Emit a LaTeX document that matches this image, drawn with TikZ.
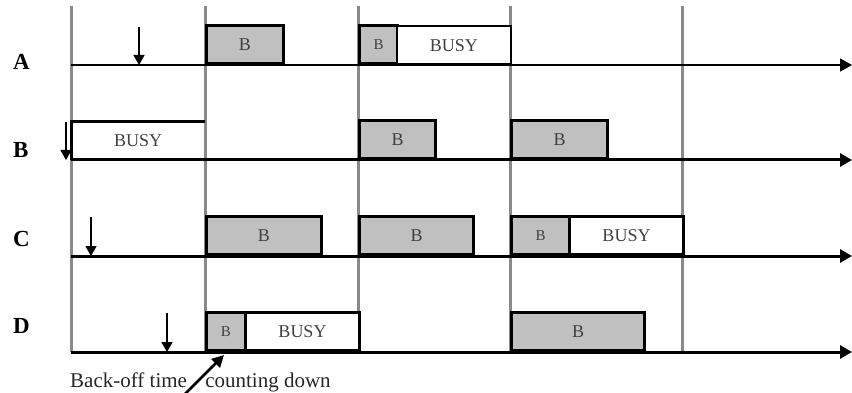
\documentclass[tikz,border=0pt]{standalone}
\usepackage{fontspec}
\setmainfont{Liberation Serif}
\usetikzlibrary{arrows.meta}
\definecolor{boxgray}{HTML}{C0C0C0}
\definecolor{slotgray}{HTML}{8A8A8A}
\begin{document}
\begin{tikzpicture}[x=1pt,y=-1pt,
  slotline/.style={draw=slotgray, line width=3pt},
  timeaxis/.style={line width=3pt, -{Triangle[length=12pt,width=13pt]}},
  thinaxis/.style={line width=1.6pt, -{Triangle[length=12pt,width=13pt]}},
  frame/.style={draw, line width=3pt, fill=boxgray, inner sep=0pt,
    anchor=south west, minimum height=38pt, text=black!75,
    font=\fontsize{18}{18}\selectfont},
  small/.style={font=\fontsize{15}{15}\selectfont},
  busy/.style={frame, fill=white},
  thinbusy/.style={busy, line width=1.6pt},
  hint/.style={line width=1.5pt, -{Triangle[length=10pt,width=11pt]}},
  rowlabel/.style={anchor=base west, inner sep=0pt,
    font=\bfseries\fontsize{23}{23}\selectfont},
  note/.style={anchor=base west, inner sep=0pt, text=black!85,
    font=\fontsize{21}{21}\selectfont}
]
\useasboundingbox (0,0) rectangle (852,393);

% slot boundaries
\foreach \x [count=\i] in {71,205,358,510,682}{
  \coordinate (s\i top) at (\x,6);
  \coordinate (s\i bot) at (\x,352);
  \draw[slotline] (s\i top) -- (s\i bot);
}

% row A (axis at 65)
\node[frame] (a1) at (205,65) [minimum width=77pt] {B};
\node[frame, small] (a2) at (358,65) [minimum width=38pt] {B};
\node[thinbusy] (a3) at (396,65) [minimum width=114pt] {BUSY};
\draw[line width=3pt] (a2.south west) -- (a3.south east);

% row B (axis at 160)
\node[inner sep=0pt, anchor=south west, minimum width=134pt, minimum height=38pt,
  text=black!75, font=\fontsize{18}{18}\selectfont] (b0) at (71,160) {BUSY};
\draw[line width=3pt] (b0.south west) -- (b0.north west) -- (b0.north east);
\node[frame] (b1) at (358,160) [minimum width=76pt] {B};
\node[frame] (b2) at (510,160) [minimum width=96pt] {B};

% row C (axis at 256)
\node[frame] (c1) at (205,256) [minimum width=115pt] {B};
\node[frame] (c2) at (358,256) [minimum width=114pt] {B};
\node[frame, small] (c3) at (510,256) [minimum width=58pt] {B};
\node[busy] (c4) at (568,256) [minimum width=114pt] {BUSY};

% row D (axis at 352)
\node[frame, small] (d1) at (205,352) [minimum width=39pt] {B};
\node[busy] (d2) at (244,352) [minimum width=114pt] {BUSY};
\node[frame] (d3) at (510,352) [minimum width=133pt] {B};

% time axes
\coordinate (A0) at (71,65);  \coordinate (A1) at (852,65);
\coordinate (B0) at (71,160); \coordinate (B1) at (852,160);
\coordinate (C0) at (71,256); \coordinate (C1) at (852,256);
\coordinate (D0) at (71,352); \coordinate (D1) at (852,352);
\draw[thinaxis] (A0) -- (A1);
\draw[timeaxis] (B0) -- (B1);
\draw[timeaxis] (C0) -- (C1);
\draw[timeaxis] (D0) -- (D1);

% frame arrivals
\coordinate (pa0) at (139,27);  \coordinate (pa1) at (139,65);
\coordinate (pb0) at (66,122);  \coordinate (pb1) at (66,160);
\coordinate (pc0) at (91,217);  \coordinate (pc1) at (91,256);
\coordinate (pd0) at (167,313); \coordinate (pd1) at (167,352);
\draw[hint] (pa0) -- (pa1);
\draw[hint] (pb0) -- (pb1);
\draw[hint] (pc0) -- (pc1);
\draw[hint] (pd0) -- (pd1);

% station names
\node[rowlabel] (la) at (13,70)  {A};
\node[rowlabel] (lb) at (13,158) {B};
\node[rowlabel] (lc) at (13,247) {C};
\node[rowlabel] (ld) at (13,333) {D};

% back-off annotation
\node[note] (bo) at (70,387) {Back-off time\hspace{13pt} counting down};
\coordinate (bo0) at (183,396);
\coordinate (bo1) at (224,355);
\draw[line width=2.6pt, -{Triangle[length=12pt,width=12pt]}] (bo0) -- (bo1);
\end{tikzpicture}
\end{document}
